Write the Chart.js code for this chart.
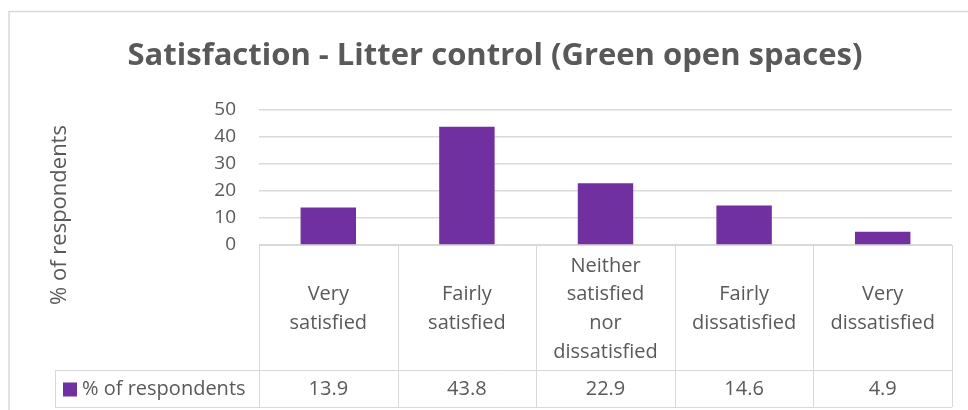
<!DOCTYPE html>
<html>
<head>
<meta charset="utf-8">
<script src="https://cdn.jsdelivr.net/npm/chart.js@4.4.1/dist/chart.umd.min.js"></script>
<style>
  html, body { margin: 0; padding: 0; background: #ffffff; }
  #wrap { width: 968px; height: 410px; }
</style>
</head>
<body>
<div id="wrap"><canvas id="c" width="968" height="410"></canvas></div>
<script>
const chartTitle = "Satisfaction - Litter control (Green open spaces)";
const yAxisTitle = "% of respondents";
const seriesName = "% of respondents";
const categories = [
  ["Very", "satisfied"],
  ["Fairly", "satisfied"],
  ["Neither", "satisfied", "nor", "dissatisfied"],
  ["Fairly", "dissatisfied"],
  ["Very", "dissatisfied"]
];
const values = [13.9, 43.8, 22.9, 14.6, 4.9];
const valueLabels = ["13.9", "43.8", "22.9", "14.6", "4.9"];
const yTicks = [0, 10, 20, 30, 40, 50];

const TEXT = "#595959";
const GRID = "#d9d9d9";
const BAR = "#7030A0";
const FONT = "'Open Sans', 'Noto Sans', sans-serif";

const tablePlugin = {
  id: "tablePlugin",
  afterDraw(chart) {
    const ctx = chart.ctx;
    const area = chart.chartArea;
    const x = chart.scales.x;
    const n = categories.length;
    const w = (area.right - area.left) / n;
    const top = area.bottom;
    const rowTop = top + 125;
    const rowBottom = rowTop + 37;
    const legendLeft = 55;
    ctx.save();
    // outer chart border
    ctx.strokeStyle = GRID;
    ctx.lineWidth = 1.5;
    ctx.strokeRect(9, 11.5, 1000, 500);
    ctx.lineWidth = 1;
    ctx.strokeStyle = GRID;
    ctx.beginPath();
    // header row top (axis line)
    ctx.moveTo(area.left, top + 0.5);
    ctx.lineTo(area.right, top + 0.5);
    // vertical lines
    for (let i = 0; i <= n; i++) {
      const px = Math.round(x.getPixelForValue(0) - w / 2 + i * w) + 0.5;
      ctx.moveTo(px, top);
      ctx.lineTo(px, rowBottom);
    }
    // value row lines
    ctx.moveTo(legendLeft, rowTop + 0.5);
    ctx.lineTo(area.right, rowTop + 0.5);
    ctx.moveTo(legendLeft, rowBottom + 0.5);
    ctx.lineTo(area.right, rowBottom + 0.5);
    ctx.moveTo(legendLeft + 0.5, rowTop);
    ctx.lineTo(legendLeft + 0.5, rowBottom);
    ctx.stroke();
    // legend key
    const midY = (rowTop + rowBottom) / 2 + 1;
    ctx.fillStyle = BAR;
    ctx.fillRect(63, midY - 7, 14, 14);
    ctx.fillStyle = TEXT;
    ctx.font = "20px " + FONT;
    ctx.textBaseline = "middle";
    ctx.textAlign = "left";
    ctx.fillText(seriesName, 82, midY);
    ctx.textAlign = "center";
    for (let i = 0; i < n; i++) {
      ctx.fillText(valueLabels[i], x.getPixelForValue(i), midY);
    }
    // chart title
    ctx.font = "bold 31px " + FONT;
    ctx.fillText(chartTitle, 495, 56);
    // y axis title
    ctx.translate(60, 215);
    ctx.rotate(-Math.PI / 2);
    ctx.font = "22px " + FONT;
    ctx.fillText(yAxisTitle, 0, 0);
    ctx.restore();
  }
};

new Chart(document.getElementById("c"), {
  type: "bar",
  data: {
    labels: categories,
    datasets: [{
      label: seriesName,
      data: values,
      backgroundColor: BAR,
      borderWidth: 0,
      barPercentage: 0.4,
      categoryPercentage: 1.0
    }]
  },
  options: {
    responsive: false,
    animation: false,
    layout: { padding: { left: 0, right: 16, top: 110, bottom: 0 } },
    plugins: {
      legend: { display: false },
      title: { display: false },
      tooltip: { enabled: false }
    },
    scales: {
      x: {
        grid: { display: false, drawTicks: false },
        border: { display: false },
        ticks: {
          autoSkip: false,
          maxRotation: 0,
          minRotation: 0,
          crossAlign: "center",
          padding: 21,
          color: TEXT,
          font: { family: FONT, size: 20, lineHeight: 1.43 }
        },
        afterFit(scale) { scale.height = 165; }
      },
      y: {
        min: 0,
        max: 50,
        afterBuildTicks(scale) { scale.ticks = yTicks.map(v => ({ value: v })); },
        grid: { color: GRID, lineWidth: 1.5, drawTicks: false },
        border: { display: false },
        ticks: {
          padding: 23,
          color: TEXT,
          font: { family: FONT, size: 19 }
        },
        afterFit(scale) { scale.width = 259; }
      }
    }
  },
  plugins: [tablePlugin]
});
</script>
</body>
</html>
